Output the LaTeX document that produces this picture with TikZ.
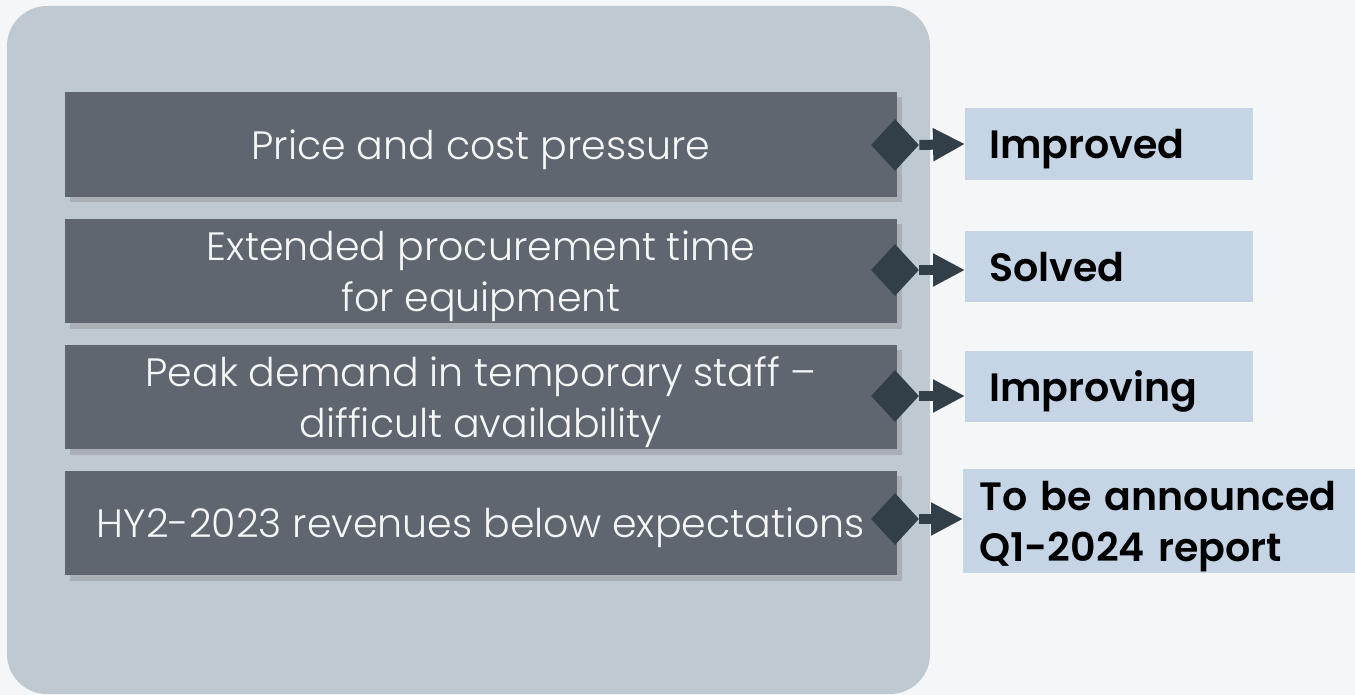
\documentclass[tikz,border=0pt]{standalone}
\usepackage{fontspec}
\setmainfont{Poppins}
\newfontfamily\thinfont{Poppins}[UprightFont=* Light]
\newfontfamily\semifont{Poppins}[UprightFont=* SemiBold]
\usepackage{tikz}
\usetikzlibrary{shapes,shapes.geometric}
\usetikzlibrary{arrows.meta,shadows}
\definecolor{bgcol}{HTML}{F5F6F7}
\definecolor{panelcol}{HTML}{BFC9D2}
\definecolor{issuecol}{HTML}{5F6670}
\definecolor{markcol}{HTML}{333F48}
\definecolor{statecol}{HTML}{C5D5E6}
\tikzstyle{issue}=[fill=issuecol, text=white!94!issuecol, minimum width=16.64cm, minimum height=2.1cm, align=center, text depth=0pt, font=\thinfont\fontsize{22.5}{29}\selectfont, drop shadow={shadow xshift=3pt, shadow yshift=-3pt, opacity=0.35}]
\tikzstyle{knob}=[diamond, fill=markcol, minimum width=0.96cm, minimum height=1.04cm, inner sep=0pt]
\tikzstyle{state}=[fill=statecol, anchor=west, minimum width=5.76cm, minimum height=1.44cm, text width=4.8cm, align=left, inner xsep=0.44cm, text depth=0pt, font=\semifont\fontsize{22.5}{29}\selectfont]
\tikzstyle{link}=[draw=markcol, line width=0.2cm, -{Triangle[length=0.64cm, width=0.62cm]}, markcol]

\begin{document}
\begin{tikzpicture}[x=0.02cm, y=-0.02cm]
\useasboundingbox[fill=bgcol] (0,0) rectangle (1355,695);
\fill[panelcol, rounded corners=0.8cm] (7,6) rectangle (930,694);
% issues on the left
\node[issue] (i1) at (481,144.5) {Price and cost pressure};
\node[issue] (i2) at (481,271) {Extended procurement time\\for equipment};
\node[issue] (i3) at (481,397) {Peak demand in temporary staff –\\difficult availability};
\node[issue] (i4) at (481,523) {HY2-2023 revenues below expectations};
% markers
\node[knob] (k1) at (895,145) {};
\node[knob] (k2) at (895,270) {};
\node[knob] (k3) at (895,396) {};
\node[knob] (k4) at (895,519) {};
% status boxes
\node[state] (s1) at (965,144) {Improved};
\node[state] (s2) at (965,266.5) {Solved};
\node[state] (s3) at (965,386.5) {Improving};
\node[state, minimum width=7.84cm, minimum height=2.08cm, text width=7.2cm, inner xsep=0.3cm, text depth=29pt] (s4) at (963,521) {To be announced\\Q1-2024 report};
\draw[link] (k1.east) -- (s1.west);
\draw[link] (k2.east) -- (s2.west |- k2.east);
\draw[link] (k3.east) -- (s3.west |- k3.east);
\draw[link] (k4.east) -- (s4.west |- k4.east);
\end{tikzpicture}
\end{document}
